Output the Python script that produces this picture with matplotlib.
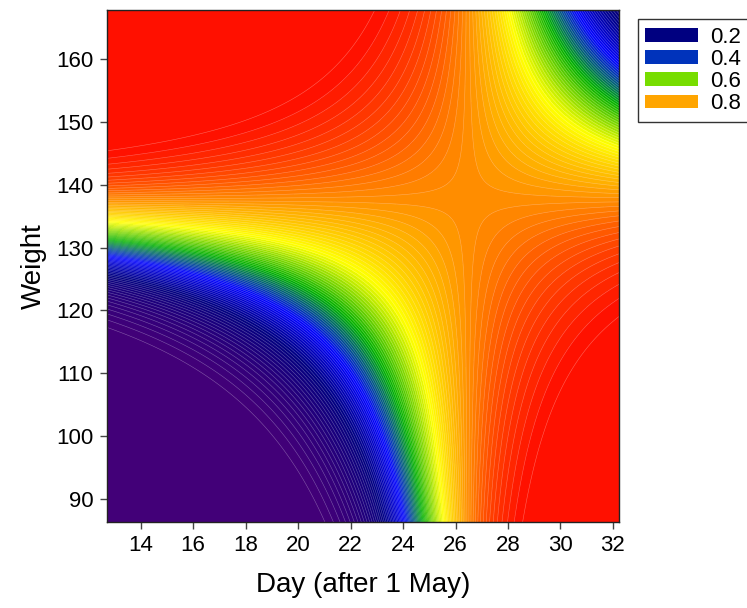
import numpy as np
import matplotlib.pyplot as plt
from matplotlib.colors import LinearSegmentedColormap
from matplotlib.patches import Patch

plt.rcParams['font.family'] = ['Liberation Sans', 'DejaVu Sans']

# logistic surface: logit(p) = intercept + interaction*(day-d0)*(weight-w0)
day_range = [12.73, 32.24]
weight_range = [86.3, 167.7]
saddle_day = 26.47
saddle_weight = 137.6
intercept = 1.55
interaction = -0.018

day_ticks = [14, 16, 18, 20, 22, 24, 26, 28, 30, 32]
weight_ticks = [90, 100, 110, 120, 130, 140, 150, 160]

legend_values = ['0.2', '0.4', '0.6', '0.8']
legend_colors = ['#000080', '#0033bb', '#77dd00', '#ffa500']

cmap_stops = [(0.0, '#420078'), (0.03, '#420078'), (0.2, '#000080'), (0.34, '#0000ff'),
              (0.5, '#00b000'), (0.67, '#ffff00'), (0.8, '#ffa500'), (0.97, '#ff1000'),
              (1.0, '#ff1000')]
cmap = LinearSegmentedColormap.from_list('rb', cmap_stops)

day = np.linspace(day_range[0], day_range[1], 500)
weight = np.linspace(weight_range[0], weight_range[1], 500)
D, W = np.meshgrid(day, weight)
eta = intercept + interaction * (D - saddle_day) * (W - saddle_weight)
prob = 1 / (1 + np.exp(-eta))

line_levels = np.round(np.arange(0.03, 0.9701, 0.01), 2)
fill_levels = np.r_[0, line_levels, 1]

fig = plt.figure(figsize=(7.47, 6.08), dpi=100)
ax = fig.add_axes([0.1436, 0.1410, 0.6854, 0.8418])
ax.contourf(D, W, prob, levels=fill_levels, cmap=cmap, vmin=0, vmax=1)
ax.contour(D, W, prob, levels=line_levels, colors='white', linewidths=0.4, alpha=0.35)

ax.set_xlim(day_range)
ax.set_ylim(weight_range)
ax.set_xticks(day_ticks)
ax.set_yticks(weight_ticks)
ax.tick_params(direction='out', length=5, width=1, color='#444444', labelsize=16)
ax.tick_params(axis='x', pad=4)
ax.tick_params(axis='y', pad=5)
for s in ax.spines.values():
    s.set_color('#222222')
    s.set_linewidth(1)
ax.set_xlabel('Day (after 1 May)', fontsize=20, labelpad=12)
ax.set_ylabel('Weight', fontsize=20, labelpad=7)

handles = [Patch(facecolor=c, edgecolor='none') for c in legend_colors]
leg = fig.legend(handles, legend_values, loc='upper left', bbox_to_anchor=(0.8537, 0.9688),
                 frameon=True, fancybox=False, edgecolor='black', fontsize=16,
                 handlelength=2.35, handleheight=0.55, handletextpad=0.55, borderpad=0.35,
                 labelspacing=0.05, borderaxespad=0)
leg.get_frame().set_linewidth(1)

fig.savefig('out.png', dpi=100)
